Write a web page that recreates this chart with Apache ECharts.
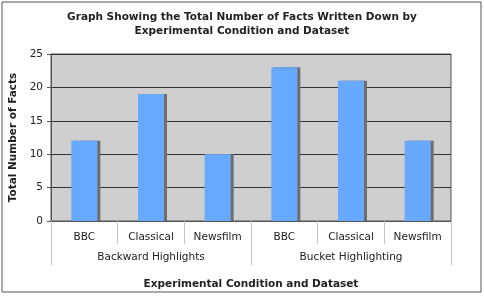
<!DOCTYPE html>
<html>
<head>
<meta charset="utf-8">
<script src="https://cdn.jsdelivr.net/npm/echarts@6/dist/echarts.min.js"></script>
<style>
  html, body { margin: 0; padding: 0; background: #fff; }
  #chart { width: 484px; height: 296px; }
</style>
</head>
<body>
<div id="chart"></div>
<script>
const datasets = ["BBC", "Classical", "Newsfilm", "BBC", "Classical", "Newsfilm"];
const conditions = ["Backward Highlights", "Bucket Highlighting"];
const facts = [12, 19, 10, 23, 21, 12];

const chart = echarts.init(document.getElementById("chart"), null, { renderer: "canvas" });
const font = "DejaVu Sans, Verdana, sans-serif";
const textColor = "#222";

chart.setOption({
  animation: false,
  backgroundColor: "#fff",
  textStyle: { fontFamily: font },
  title: {
    text: "Graph Showing the Total Number of Facts Written Down by\nExperimental Condition and Dataset",
    left: "center",
    top: 5,
    textStyle: { fontSize: 10.5, fontWeight: "bold", color: textColor, lineHeight: 14, fontFamily: font }
  },
  graphic: [{
    type: "rect",
    shape: { x: 2, y: 2, width: 479, height: 290 },
    style: { fill: "none", stroke: "#555", lineWidth: 1 },
    silent: true
  }],
  grid: {
    left: 51, right: 33, top: 54, bottom: 75,
    outerBoundsMode: "none",
    show: true,
    backgroundColor: "#cfcfcf",
    borderColor: "#555",
    borderWidth: 1
  },
  xAxis: [
    {
      type: "category",
      data: datasets,
      position: "bottom",
      axisLine: { lineStyle: { color: "#555" } },
      axisTick: { show: true, interval: 0, length: 23, lineStyle: { color: "#c4c4c4" } },
      axisLabel: { color: textColor, fontSize: 10.5, margin: 11, fontFamily: font }
    },
    {
      type: "category",
      data: conditions,
      position: "bottom",
      offset: 22,
      axisLine: { show: false },
      axisTick: { show: true, interval: 0, length: 22, lineStyle: { color: "#c4c4c4" } },
      axisLabel: { color: textColor, fontSize: 10.5, margin: 9, fontFamily: font },
      name: "Experimental Condition and Dataset",
      nameLocation: "middle",
      nameGap: 36,
      nameTextStyle: { fontSize: 10.5, fontWeight: "bold", color: textColor, fontFamily: font }
    }
  ],
  yAxis: {
    type: "value",
    min: 0,
    max: 25,
    interval: 5,
    axisLine: { show: true, lineStyle: { color: "#555" } },
    axisTick: { show: true, length: 4, lineStyle: { color: "#555" } },
    splitLine: { lineStyle: { color: "#333", width: 1 } },
    axisLabel: { color: textColor, fontSize: 10.5, margin: 8, fontFamily: font },
    name: "Total Number of Facts",
    nameLocation: "middle",
    nameGap: 31,
    nameTextStyle: { fontSize: 10.5, fontWeight: "bold", color: textColor, fontFamily: font }
  },
  series: [{
    type: "bar",
    xAxisIndex: 0,
    data: facts,
    barWidth: 26,
    itemStyle: {
      color: "#66a9ff",
      shadowColor: "#6e6e6e",
      shadowBlur: 0,
      shadowOffsetX: 3,
      shadowOffsetY: 0
    }
  }]
});
</script>
</body>
</html>
